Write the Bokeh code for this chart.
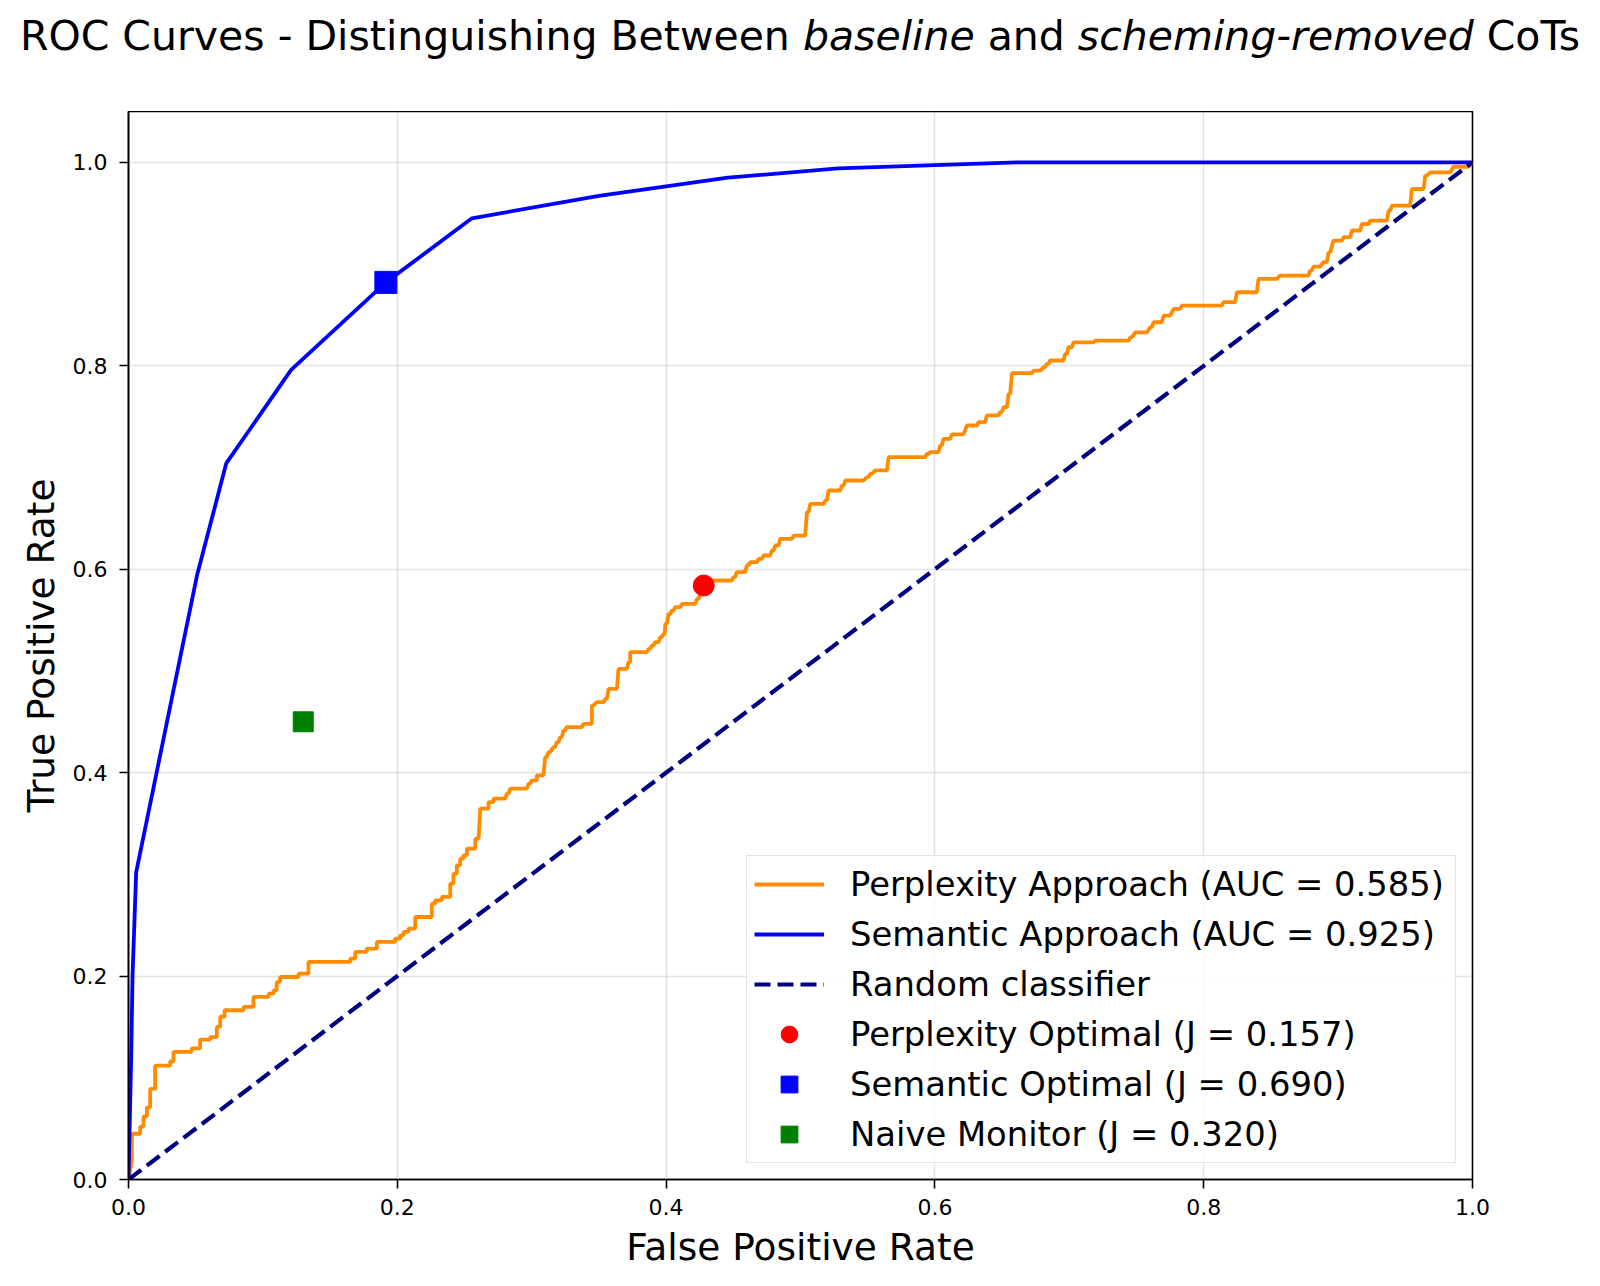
from bokeh.plotting import figure
from bokeh.layouts import column
from bokeh.models import Range1d, FixedTicker, NumeralTickFormatter, Div
from bokeh.embed import file_html
from bokeh.resources import INLINE

# ---------------- data ----------------
tick_vals = [0.0, 0.2, 0.4, 0.6, 0.8, 1.0]

# Semantic approach ROC curve
sem_fpr = [0.0, 0.002, 0.003, 0.0057, 0.051, 0.0727, 0.121, 0.1915, 0.2555, 0.35, 0.446, 0.528, 0.661, 1.0]
sem_tpr = [0.0, 0.12, 0.20, 0.302, 0.594, 0.704, 0.796, 0.882, 0.945, 0.967, 0.985, 0.994, 1.0, 1.0]

# Perplexity approach ROC curve (each flat run: fpr start, fpr end, tpr)
perp_fpr_start = [0.0, 0.0025, 0.0025, 0.0087, 0.0112, 0.0137, 0.0161, 0.0198, 0.031, 0.0335, 0.047, 0.0533,
                  0.0608, 0.0657, 0.0682, 0.0715, 0.0856, 0.093, 0.1042, 0.1079, 0.1103, 0.1128, 0.1265, 0.1339,
                  0.165, 0.1687, 0.1773, 0.1848, 0.1984, 0.2022, 0.2047, 0.2084, 0.2133, 0.2257, 0.2282, 0.2332,
                  0.2394, 0.2418, 0.2443, 0.2468, 0.2493, 0.2518, 0.258, 0.2617, 0.2679, 0.2716, 0.2815, 0.284,
                  0.2976, 0.3001, 0.3038, 0.31, 0.3125, 0.3162, 0.3187, 0.3212, 0.3237, 0.3261, 0.3385, 0.3448,
                  0.3485, 0.3547, 0.3572, 0.3646, 0.372, 0.3733, 0.387, 0.3894, 0.3919, 0.3956, 0.3981, 0.3994,
                  0.4018, 0.4043, 0.4068, 0.4118, 0.423, 0.4254, 0.4279, 0.4303, 0.4502, 0.4526, 0.4601, 0.4626,
                  0.4688, 0.4725, 0.4787, 0.4812, 0.4849, 0.4949, 0.5048, 0.5073, 0.5184, 0.5209, 0.5308, 0.5333,
                  0.5494, 0.5519, 0.5556, 0.5655, 0.594, 0.5965, 0.6039, 0.6064, 0.6126, 0.6238, 0.6325, 0.6387,
                  0.6486, 0.6511, 0.6548, 0.6573, 0.6734, 0.6808, 0.6833, 0.6858, 0.6969, 0.6994, 0.7032, 0.7193,
                  0.7454, 0.7491, 0.7602, 0.7627, 0.7701, 0.7776, 0.7838, 0.8147, 0.8247, 0.8408, 0.8569, 0.8792,
                  0.8817, 0.8891, 0.8929, 0.8966, 0.904, 0.9103, 0.9177, 0.9239, 0.9376, 0.9401, 0.9549, 0.9648,
                  0.9686, 0.9858, 1.0]
perp_fpr_end = [0.0, 0.0025, 0.0087, 0.0112, 0.0137, 0.0161, 0.0198, 0.031, 0.0335, 0.047, 0.0533, 0.0608,
                0.0657, 0.0682, 0.0715, 0.0856, 0.093, 0.1042, 0.1079, 0.1103, 0.1128, 0.1265, 0.1339, 0.165,
                0.1687, 0.1773, 0.1848, 0.1984, 0.2022, 0.2047, 0.2084, 0.2133, 0.2257, 0.2282, 0.2332, 0.2394,
                0.2418, 0.2443, 0.2468, 0.2493, 0.2518, 0.258, 0.2605, 0.2679, 0.2716, 0.2803, 0.2828, 0.2964,
                0.2989, 0.3038, 0.3088, 0.3112, 0.3137, 0.3174, 0.32, 0.3224, 0.3249, 0.3373, 0.3448, 0.346,
                0.3535, 0.356, 0.3634, 0.3708, 0.3733, 0.3857, 0.3882, 0.3907, 0.3944, 0.3969, 0.399, 0.4006,
                0.4031, 0.4056, 0.4105, 0.4217, 0.4242, 0.4266, 0.4291, 0.449, 0.4514, 0.4588, 0.4613, 0.4676,
                0.4713, 0.4775, 0.48, 0.4837, 0.4936, 0.5035, 0.506, 0.5172, 0.5197, 0.5296, 0.5321, 0.5469,
                0.5506, 0.5531, 0.5643, 0.5927, 0.5952, 0.6027, 0.6052, 0.6114, 0.6213, 0.6312, 0.6374, 0.6473,
                0.6498, 0.6536, 0.656, 0.6722, 0.6784, 0.682, 0.6845, 0.6957, 0.6982, 0.7019, 0.718, 0.7441,
                0.7466, 0.7578, 0.7614, 0.7689, 0.7751, 0.7825, 0.8135, 0.8234, 0.8395, 0.8544, 0.878, 0.8804,
                0.8867, 0.8916, 0.8941, 0.9028, 0.909, 0.9165, 0.9227, 0.9363, 0.9388, 0.9536, 0.9636, 0.966,
                0.9835, 0.997, 1.0]
perp_tpr = [0.0, 0.019, 0.045, 0.052, 0.062, 0.071, 0.089, 0.112, 0.116, 0.1255, 0.129, 0.1376,
            0.140, 0.150, 0.160, 0.1664, 0.1697, 0.1795, 0.1827, 0.186, 0.1942, 0.1991, 0.2024, 0.2139,
            0.2172, 0.2237, 0.227, 0.2336, 0.2368, 0.2401, 0.2434, 0.2467, 0.2581, 0.2712, 0.2745, 0.2778,
            0.2909, 0.3007, 0.3089, 0.3155, 0.3188, 0.3253, 0.3351, 0.3646, 0.3711, 0.3744, 0.3793, 0.3842,
            0.3891, 0.3924, 0.3973, 0.4153, 0.4202, 0.4251, 0.43, 0.4349, 0.4415, 0.4448, 0.448, 0.4661,
            0.4693, 0.4726, 0.4824, 0.5021, 0.5086, 0.5185, 0.5217, 0.525, 0.5283, 0.5332, 0.5365, 0.5463,
            0.5561, 0.5594, 0.5627, 0.5659, 0.5709, 0.5758, 0.584, 0.5889, 0.5922, 0.5971, 0.6037, 0.607,
            0.6102, 0.6135, 0.6184, 0.6233, 0.6299, 0.6331, 0.6561, 0.6643, 0.6676, 0.6774, 0.6823, 0.6872,
            0.6905, 0.6938, 0.6971, 0.7102, 0.7134, 0.7151, 0.7216, 0.7282, 0.7325, 0.7413, 0.7446, 0.7512,
            0.7544, 0.7593, 0.7724, 0.7927, 0.7953, 0.7986, 0.8019, 0.8052, 0.8117, 0.8182, 0.8231, 0.8248,
            0.828, 0.8329, 0.8379, 0.8428, 0.8493, 0.8559, 0.8592, 0.8625, 0.8723, 0.8854, 0.8886, 0.8936,
            0.8975, 0.9018, 0.9115, 0.9231, 0.9264, 0.933, 0.9394, 0.9428, 0.9526, 0.9575, 0.9738, 0.9869,
            0.9902, 0.9957, 1.0]

random_fpr = [0.0, 1.0]
random_tpr = [0.0, 1.0]

perp_opt = (0.428, 0.584)
sem_opt = (0.1915, 0.882)
naive = (0.130, 0.450)

perp_label = "Perplexity Approach (AUC = 0.585)"
sem_label = "Semantic Approach (AUC = 0.925)"
rand_label = "Random classifier"
perp_opt_label = "Perplexity Optimal (J = 0.157)"
sem_opt_label = "Semantic Optimal (J = 0.690)"
naive_label = "Naive Monitor (J = 0.320)"

title_parts = ["ROC Curves - Distinguishing Between", "baseline", "and", "scheming-removed", "CoTs"]
title_italic = [False, True, False, True, False]

# ---------------- layout ----------------
FONT = "DejaVu Sans"
PAGE_W = 1600
TOP_H = 111
FW, FH = 1344, 1068
BL, BR, BB = 128, 128, 107
Y_MAX = 1.05
TITLE_PX = 41

# --- title strip (mixed upright / italic text) ---
pieces = [f"<i>{t}</i>" if it else t for t, it in zip(title_parts, title_italic)]
title_html = (f'<div style="font-family:\'{FONT}\';font-size:{TITLE_PX}px;line-height:{TITLE_PX}px;'
              f'text-align:center;width:{PAGE_W}px;padding-top:16px;color:#000;white-space:nowrap;'
              f'font-weight:normal;">' + " ".join(pieces) + "</div>")
title_div = Div(text=title_html, width=PAGE_W, height=TOP_H, margin=0)

# --- main plot ---
p = figure(frame_width=FW, frame_height=FH,
           x_range=Range1d(0.0, 1.0), y_range=Range1d(0.0, Y_MAX),
           output_backend="svg", toolbar_location=None, title=None,
           min_border_left=BL, min_border_right=BR, min_border_top=0, min_border_bottom=BB)
p.background_fill_color = "white"
p.border_fill_color = "white"
p.outline_line_color = "black"
p.outline_line_width = 1.6

for ax in (p.xaxis[0], p.yaxis[0]):
    ax.ticker = FixedTicker(ticks=tick_vals)
    ax.formatter = NumeralTickFormatter(format="0.0")
    ax.major_label_text_font = FONT
    ax.major_label_text_font_size = "22px"
    ax.major_label_text_color = "black"
    ax.axis_label_text_font = FONT
    ax.axis_label_text_font_size = "37.5px"
    ax.axis_label_text_font_style = "normal"
    ax.axis_label_text_color = "black"
    ax.major_tick_out = 9
    ax.major_tick_in = 0
    ax.minor_tick_out = 0
    ax.minor_tick_in = 0
    ax.axis_line_width = 1.6
    ax.major_tick_line_width = 1.6
    ax.axis_line_color = "black"
    ax.major_tick_line_color = "black"

p.xaxis.axis_label = "False Positive Rate"
p.yaxis.axis_label = "True Positive Rate"
p.xaxis.major_label_standoff = 10
p.yaxis.major_label_standoff = 12
p.xaxis.axis_label_standoff = 7
p.yaxis.axis_label_standoff = 7

for g in (p.xgrid[0], p.ygrid[0]):
    g.ticker = FixedTicker(ticks=tick_vals)
    g.grid_line_color = "#b0b0b0"
    g.grid_line_alpha = 0.35
    g.grid_line_width = 1.5

# build the staircase path from the flat runs
perp_x, perp_y = [], []
for a, b, t in zip(perp_fpr_start, perp_fpr_end, perp_tpr):
    perp_x += [a, b]
    perp_y += [t, t]

p.line(perp_x, perp_y, color="#ff8c00", line_width=3.8, legend_label=perp_label)
p.line(sem_fpr, sem_tpr, color="#0000ff", line_width=3.8, legend_label=sem_label)
p.line(random_fpr, random_tpr, color="#000080", line_width=4.2, line_dash="16 7", legend_label=rand_label)
p.scatter([perp_opt[0]], [perp_opt[1]], marker="circle", size=21, color="#ff0000", legend_label=perp_opt_label)
p.scatter([sem_opt[0]], [sem_opt[1]], marker="square", size=22, color="#0000ff", legend_label=sem_opt_label)
p.scatter([naive[0]], [naive[1]], marker="square", size=20, color="#008000", legend_label=naive_label)

lg = p.legend[0]
lg.location = "bottom_right"
lg.margin = 16
lg.padding = 7
lg.spacing = 8
lg.glyph_width = 70
lg.glyph_height = 42
lg.label_height = 42
lg.label_width = 598
lg.label_standoff = 26
lg.label_text_font = FONT
lg.label_text_font_size = "33.8px"
lg.label_text_color = "black"
lg.background_fill_color = "white"
lg.background_fill_alpha = 0.85
lg.border_line_color = "#cccccc"
lg.border_line_width = 1.5

layout = column(title_div, p, spacing=0)
open("out.html", "w").write(file_html(layout, INLINE))
